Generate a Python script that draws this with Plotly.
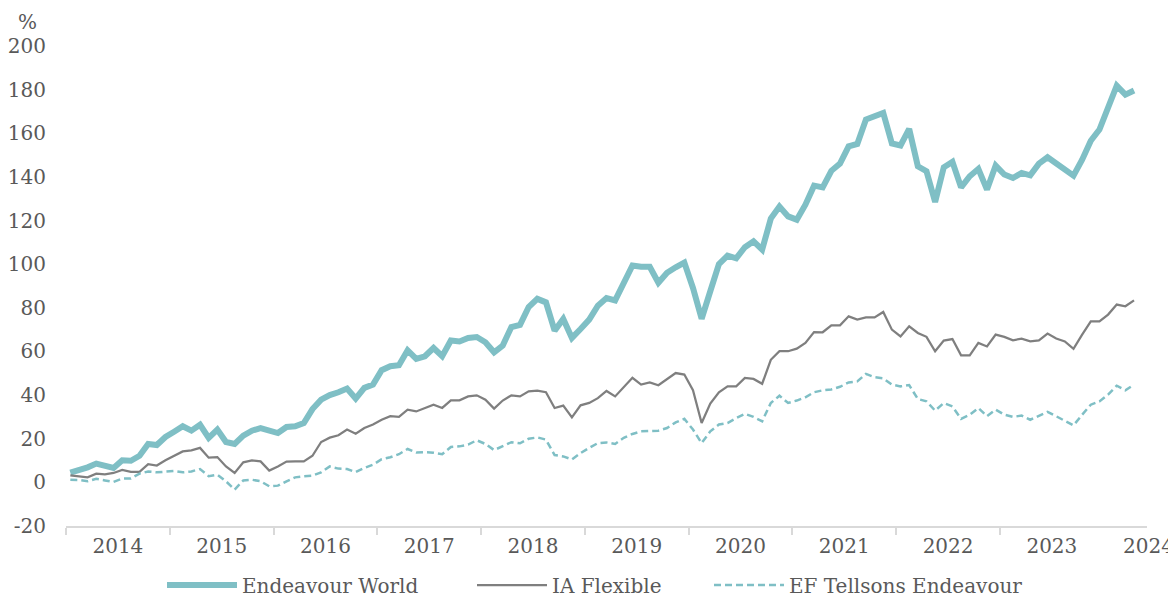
import plotly.graph_objects as go

# ---- data (monthly, Jan 2014 .. Apr 2024) ----
years = ["2014", "2015", "2016", "2017", "2018", "2019", "2020", "2021", "2022", "2023", "2024"]
months = [f"{2014 + k // 12}-{k % 12 + 1:02d}" for k in range(124)]
y_ticks = [-20, 0, 20, 40, 60, 80, 100, 120, 140, 160, 180, 200]
y_tick_text = ["-20", "0", "20", "40", "60", "80", "100", "120", "140", "160", "180", "200"]

endeavour_world = [
    4.5, 5.5, 6.9, 8.6, 7.7, 6.6, 10.1, 9.9, 12.2, 17.6, 17.1, 20.8,
    23.2, 25.7, 23.7, 26.4, 20.4, 24.2, 18.5, 17.6, 21.4, 23.7, 24.9, 23.8,
    22.6, 25.4, 25.7, 27.2, 33.6, 37.9, 40.0, 41.3, 43.0, 38.4, 43.3, 44.8,
    51.4, 53.2, 53.7, 60.5, 56.6, 57.8, 61.6, 57.8, 65.0, 64.6, 66.2, 66.6,
    64.2, 59.6, 62.7, 71.2, 72.2, 80.4, 84.1, 82.5, 69.5, 74.9, 66.2, 70.3,
    74.6, 81.0, 84.5, 83.4, 91.2, 99.4, 98.8, 98.8, 91.5, 96.1, 98.6, 100.7,
    89.1, 75.0, 87.6, 100.0, 103.9, 102.7, 107.8, 110.5, 106.7, 120.9, 126.4, 121.9,
    120.4, 127.3, 136.0, 135.2, 142.8, 146.1, 154.0, 155.1, 166.3, 167.6, 169.3, 155.3,
    154.4, 162.0, 144.9, 142.6, 128.5, 144.4, 146.9, 135.2, 140.3, 143.7, 134.2, 145.2,
    141.1, 139.5, 141.8, 140.7, 146.1, 149.0, 146.0, 143.8, 140.6, 147.9, 156.6, 161.7,
    172.1, 181.8, 177.7, 179.6,
]

ia_flexible = [
    3.2, 2.6, 2.3, 4.0, 3.7, 4.3, 5.7, 4.8, 4.8, 8.3, 7.7, 10.1,
    12.2, 14.2, 14.7, 15.8, 11.3, 11.6, 7.3, 4.3, 9.2, 10.1, 9.6, 5.4,
    7.3, 9.5, 9.6, 9.6, 12.2, 18.5, 20.5, 21.6, 24.2, 22.3, 24.9, 26.5,
    28.7, 30.3, 30.0, 33.3, 32.5, 34.1, 35.6, 34.1, 37.6, 37.6, 39.4, 39.9,
    37.9, 33.8, 37.5, 39.9, 39.4, 41.7, 42.0, 41.3, 34.1, 35.2, 29.8, 35.3,
    36.4, 38.6, 41.9, 39.4, 43.7, 47.9, 44.8, 45.8, 44.5, 47.4, 50.1, 49.4,
    42.2, 27.2, 36.1, 41.3, 44.0, 44.0, 47.9, 47.4, 45.2, 56.2, 60.1, 60.1,
    61.3, 63.9, 68.9, 68.8, 72.0, 72.0, 76.1, 74.6, 75.6, 75.6, 78.1, 70.0,
    66.9, 71.5, 68.5, 66.7, 60.1, 65.0, 65.7, 58.2, 58.2, 63.9, 62.3, 67.7,
    66.7, 65.1, 65.9, 64.6, 65.1, 68.2, 65.9, 64.6, 61.2, 67.7, 73.8, 73.8,
    76.9, 81.5, 80.7, 83.4,
]

ef_tellsons = [
    1.2, 1.1, 0.5, 1.6, 0.9, 0.2, 1.7, 1.8, 4.0, 5.0, 4.6, 4.9,
    5.2, 4.6, 5.0, 6.1, 2.8, 3.5, 0.5, -3.3, 0.9, 1.2, 0.5, -1.8,
    -1.5, 0.5, 2.3, 2.8, 3.1, 4.6, 7.3, 6.3, 6.1, 4.7, 6.6, 8.1,
    10.6, 11.5, 12.9, 15.3, 13.7, 13.8, 13.6, 12.9, 16.2, 16.5, 17.3, 19.3,
    17.6, 14.8, 16.7, 18.4, 17.9, 20.0, 20.6, 19.6, 12.5, 11.9, 10.5, 13.4,
    15.8, 18.0, 18.3, 17.6, 20.4, 22.2, 23.4, 23.7, 23.7, 24.9, 27.5, 29.1,
    24.2, 18.0, 23.4, 26.5, 27.2, 29.5, 31.4, 30.0, 28.0, 36.4, 39.7, 36.4,
    37.5, 39.0, 41.3, 42.2, 42.6, 43.8, 45.8, 46.3, 49.7, 48.2, 47.7, 44.8,
    44.0, 44.6, 38.2, 37.1, 32.9, 36.4, 34.8, 29.1, 31.0, 34.1, 30.3, 33.3,
    31.0, 30.0, 30.6, 28.7, 30.6, 32.3, 30.3, 28.3, 26.1, 31.0, 35.6, 37.1,
    40.2, 44.3, 42.2, 44.8,
]

# ---- styling ----
TEAL = "#7fbfc5"
GREY = "#7f7f7f"
TEXT = "#595959"
AXIS = "#d9d9d9"
FONT = "DejaVu Serif"

# The page body keeps its default 8px margin, so the figure is drawn 8px
# in from the window's top-left corner; size it to end at the window edge
# (a little extra height so the bottom legends are never clipped).
OFF = 8
W, H = 1176 - OFF, 598 - OFF + 16
ML, MT = 66 - OFF, 46 - OFF
PW, PH = 1081, 480
MR, MB = W - ML - PW, H - MT - PH

x = list(range(len(months)))
n_slots = len(months) + 1  # axis has one extra (empty) month slot at the end
x_lo, x_hi = -0.5, n_slots - 0.5

fig = go.Figure()
fig.add_trace(go.Scatter(x=x, y=endeavour_world, name="Endeavour World", mode="lines",
                         line=dict(color=TEAL, width=6), customdata=months, legend="legend"))
fig.add_trace(go.Scatter(x=x, y=ia_flexible, name="IA Flexible", mode="lines",
                         line=dict(color=GREY, width=2.25), customdata=months, legend="legend2"))
fig.add_trace(go.Scatter(x=x, y=ef_tellsons, name="EF Tellsons Endeavour", mode="lines",
                         line=dict(color=TEAL, width=2.5, dash="7px,4px"), customdata=months,
                         legend="legend3"))

label_pos = [12 * k + 5.5 for k in range(len(years) - 1)]
boundaries = [12 * k - 0.5 for k in range(len(years) - 1)]


def paper_x(page_px):
    return (page_px - OFF - ML) / PW


def paper_y(page_py):
    return (MT + PH - (page_py - OFF)) / PH


def legend_at(line_start_px):
    return dict(orientation="h", x=paper_x(line_start_px - 6), xanchor="left",
                y=paper_y(585), yanchor="middle", itemwidth=70,
                bgcolor="rgba(0,0,0,0)",
                font=dict(family=FONT, size=20, color=TEXT))


fig.update_layout(
    width=W, height=H,
    margin=dict(l=ML, r=MR, t=MT, b=MB, autoexpand=False),
    paper_bgcolor="white", plot_bgcolor="white",
    font=dict(family=FONT, size=20, color=TEXT),
    showlegend=True,
    legend=legend_at(168),
    legend2=legend_at(478),
    legend3=legend_at(715),
    xaxis=dict(range=[x_lo, x_hi], showgrid=False, zeroline=False, automargin=False,
               showline=True, linecolor=AXIS, linewidth=2,
               tickmode="array", tickvals=label_pos, ticktext=years[:-1], ticks="",
               ticklabelstandoff=1,
               tickfont=dict(family=FONT, size=20, color=TEXT),
               minor=dict(tickmode="array", tickvals=boundaries, ticks="outside",
                          ticklen=7, tickcolor=AXIS, tickwidth=2, showgrid=False)),
    yaxis=dict(range=[-20, 200], showgrid=False, zeroline=False, automargin=False,
               showline=False, ticks="", ticklabelstandoff=19,
               tickmode="array", tickvals=y_ticks, ticktext=y_tick_text,
               tickfont=dict(family=FONT, size=20, color=TEXT)),
)

# last (partial-year) label sits past the end of the axis
last_label_x = 12 * (len(years) - 1) + 4.7
fig.add_annotation(x=(last_label_x - x_lo) / (x_hi - x_lo), y=paper_y(546),
                   xref="paper", yref="paper", xanchor="center", yanchor="middle",
                   text=years[-1], showarrow=False,
                   font=dict(family=FONT, size=20, color=TEXT))
fig.add_annotation(x=paper_x(27), y=paper_y(22), xref="paper", yref="paper",
                   xanchor="center", yanchor="middle", text="%", showarrow=False,
                   font=dict(family=FONT, size=20, color=TEXT))

fig.write_html("out.html")
